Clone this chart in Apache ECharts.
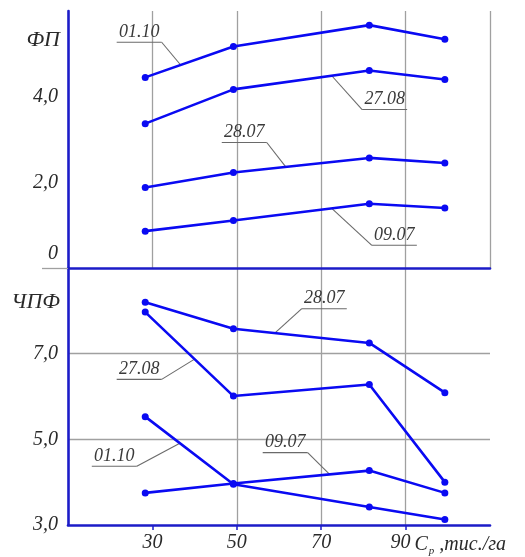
<!DOCTYPE html>
<html>
<head>
<meta charset="utf-8">
<script src="https://cdn.jsdelivr.net/npm/echarts@6/dist/echarts.min.js"></script>
<style>
  html, body { margin: 0; padding: 0; background: #fff; }
  #chart { width: 525px; height: 557px; }
</style>
</head>
<body>
<div id="chart"></div>
<script>
// Plant density, thousand plants per hectare
const densities = [28.3, 49.2, 81.4, 99.3];

// Leaf area (ФП) by sampling date
const fp0110 = [4.45, 5.17, 5.67, 5.34];
const fp2708 = [3.37, 4.17, 4.61, 4.40];
const fp2807 = [1.88, 2.23, 2.57, 2.45];
const fp0907 = [0.86, 1.11, 1.50, 1.40];

// Net photosynthetic productivity (ЧПФ) by sampling date
const cpf2807 = [8.20, 7.58, 7.25, 6.09];
const cpf2708 = [7.97, 6.01, 6.28, 4.00];
const cpf0110 = [5.53, 3.95, 3.42, 3.13];
const cpf0907 = [3.75, 3.97, 4.27, 3.75];

const dateLabels = ['01.10', '27.08', '28.07', '09.07'];
const xTickValues = [30, 50, 70, 90];
const xTickLabels = ['30', '50', '70', '90'];
const xUnit = ',тис./га';

const LINE_BLUE = '#0a0af2';
const AXIS_BLUE = '#1c1cc8';
const GRID_GRAY = '#a0a0a0';
const SERIF = '"Liberation Serif", "DejaVu Serif", serif';

const chart = echarts.init(document.getElementById('chart'));

function fmt(v) { return v.toFixed(1).replace('.', ','); }

function pairs(ys) { return densities.map((x, i) => [x, ys[i]]); }

function lineSeries(name, ys, idx) {
  return {
    type: 'line', name: name, xAxisIndex: idx, yAxisIndex: idx,
    data: pairs(ys), symbol: 'circle', symbolSize: 7,
    lineStyle: { color: LINE_BLUE, width: 2.6 },
    itemStyle: { color: LINE_BLUE },
    z: 5, silent: true, animation: false
  };
}

const tickLabelStyle = {
  fontFamily: SERIF, fontStyle: 'italic', fontSize: 20, color: '#2a2a2a'
};

function xAxis(idx, showLabels) {
  return {
    type: 'value', gridIndex: idx, min: 10, max: 110, interval: 20,
    axisLine: { show: true, lineStyle: { color: AXIS_BLUE, width: 2.6 } },
    axisTick: showLabels
      ? { show: true, customValues: xTickValues, length: 5, inside: false,
          lineStyle: { color: AXIS_BLUE, width: 1.5 } }
      : { show: false },
    axisLabel: showLabels
      ? Object.assign({ show: true, margin: 8, customValues: xTickValues,
          formatter: v => {
            const i = xTickValues.indexOf(v);
            // last label is nudged left to leave room for the unit
            return i === xTickValues.length - 1 ? '{n|' + xTickLabels[i] + '}' : xTickLabels[i];
          },
          rich: { n: Object.assign({ padding: [0, 10, 0, 0] }, tickLabelStyle) }
        }, tickLabelStyle)
      : { show: false },
    splitLine: { show: true, showMinLine: false,
      lineStyle: { color: GRID_GRAY, width: 1.3 } },
    name: showLabels ? '{c|C}{s|р}{u| ' + xUnit + '}' : '',
    nameLocation: 'end', nameGap: -88,
    nameTextStyle: {
      align: 'left', verticalAlign: 'middle', padding: [40, 0, 0, 0],
      rich: {
        c: { fontFamily: SERIF, fontStyle: 'italic', fontSize: 20, color: '#2a2a2a' },
        s: { fontFamily: SERIF, fontStyle: 'italic', fontSize: 11, color: '#2a2a2a', padding: [12, 0, 0, 1] },
        u: { fontFamily: SERIF, fontStyle: 'italic', fontSize: 20, color: '#2a2a2a' }
      }
    }
  };
}

function yAxis(idx, min, max, name, nameGap) {
  return {
    type: 'value', gridIndex: idx, min: min, max: max, interval: 2,
    axisLine: { show: true, lineStyle: { color: AXIS_BLUE, width: 2.6 } },
    axisTick: idx === 0
      ? { show: true, customValues: [0], length: 26, lineStyle: { color: GRID_GRAY, width: 1.3 } }
      : { show: false },
    axisLabel: Object.assign({
      show: true, margin: 10,
      formatter: v => {
        if (v === max) return '';
        if (v === 0) return '{z|0}';
        return fmt(v);
      },
      rich: { z: Object.assign({ padding: [0, 0, 28, 0] }, tickLabelStyle) }
    }, tickLabelStyle),
    splitLine: { show: true, showMinLine: false, showMaxLine: idx === 0,
      lineStyle: { color: GRID_GRAY, width: 1.3 } },
    name: name, nameLocation: 'end', nameGap: nameGap,
    nameTextStyle: {
      fontFamily: SERIF, fontStyle: 'italic', fontSize: 22, color: '#2a2a2a',
      align: 'right', verticalAlign: 'middle', padding: [0, 8, 0, 0]
    }
  };
}

const option = {
  animation: false,
  backgroundColor: '#fff',
  grid: [
    { left: 68, width: 422, top: 11, height: 257 },
    { left: 68, width: 422, top: 268, height: 257 }
  ],
  xAxis: [xAxis(0, false), xAxis(1, true)],
  yAxis: [yAxis(0, 0, 6, 'ФП', -29), yAxis(1, 3, 9, 'ЧПФ', -34)],
  series: [
    lineSeries('01.10', fp0110, 0),
    lineSeries('27.08', fp2708, 0),
    lineSeries('28.07', fp2807, 0),
    lineSeries('09.07', fp0907, 0),
    lineSeries('28.07', cpf2807, 1),
    lineSeries('27.08', cpf2708, 1),
    lineSeries('01.10', cpf0110, 1),
    lineSeries('09.07', cpf0907, 1)
  ]
};
chart.setOption(option);

// Leader-line callouts: anchor on the curve at density `at`, elbow of the underline at [ex, ey]
const callouts = [
  { grid: 0, text: dateLabels[0], ys: fp0110, at: 36.7, ex: 32.2, ey: 5.27, side: 'left' },
  { grid: 0, text: dateLabels[1], ys: fp2708, at: 72.5, ex: 79.7, ey: 3.70, side: 'right' },
  { grid: 0, text: dateLabels[2], ys: fp2807, at: 61.6, ex: 57.1, ey: 2.93, side: 'left' },
  { grid: 0, text: dateLabels[3], ys: fp0907, at: 72.5, ex: 82.0, ey: 0.53, side: 'right' },
  { grid: 1, text: dateLabels[2], ys: cpf2807, at: 59.0, ex: 65.4, ey: 8.05, side: 'right' },
  { grid: 1, text: dateLabels[1], ys: cpf2708, at: 40.0, ex: 32.2, ey: 6.40, side: 'left' },
  { grid: 1, text: dateLabels[0], ys: cpf0110, at: 36.5, ex: 26.3, ey: 4.37, side: 'left' },
  { grid: 1, text: dateLabels[3], ys: cpf0907, at: 72.0, ex: 66.8, ey: 4.69, side: 'left' }
];

function interp(ys, x) {
  for (let i = 0; i < densities.length - 1; i++) {
    if (x >= densities[i] && x <= densities[i + 1]) {
      const t = (x - densities[i]) / (densities[i + 1] - densities[i]);
      return ys[i] + t * (ys[i + 1] - ys[i]);
    }
  }
  return ys[ys.length - 1];
}

const graphics = [];
const UNDERLINE = 45;
callouts.forEach(c => {
  const anchor = chart.convertToPixel({ gridIndex: c.grid }, [c.at, interp(c.ys, c.at)]);
  const elbow = chart.convertToPixel({ gridIndex: c.grid }, [c.ex, c.ey]);
  const far = c.side === 'left' ? elbow[0] - UNDERLINE : elbow[0] + UNDERLINE;
  graphics.push({
    type: 'line', silent: true, z: 2,
    shape: { x1: elbow[0], y1: elbow[1], x2: anchor[0], y2: anchor[1] },
    style: { stroke: '#6a6a6a', lineWidth: 1.1 }
  });
  graphics.push({
    type: 'line', silent: true, z: 2,
    shape: { x1: Math.min(far, elbow[0]), y1: elbow[1], x2: Math.max(far, elbow[0]), y2: elbow[1] },
    style: { stroke: '#6a6a6a', lineWidth: 1.1 }
  });
  graphics.push({
    type: 'text', silent: true, z: 2,
    x: (far + elbow[0]) / 2, y: elbow[1] - 1,
    style: {
      text: c.text, fontFamily: SERIF, fontStyle: 'italic', fontSize: 18,
      fill: '#3a3a3a', align: 'center', verticalAlign: 'bottom'
    }
  });
});
chart.setOption({ graphic: graphics });
</script>
</body>
</html>
